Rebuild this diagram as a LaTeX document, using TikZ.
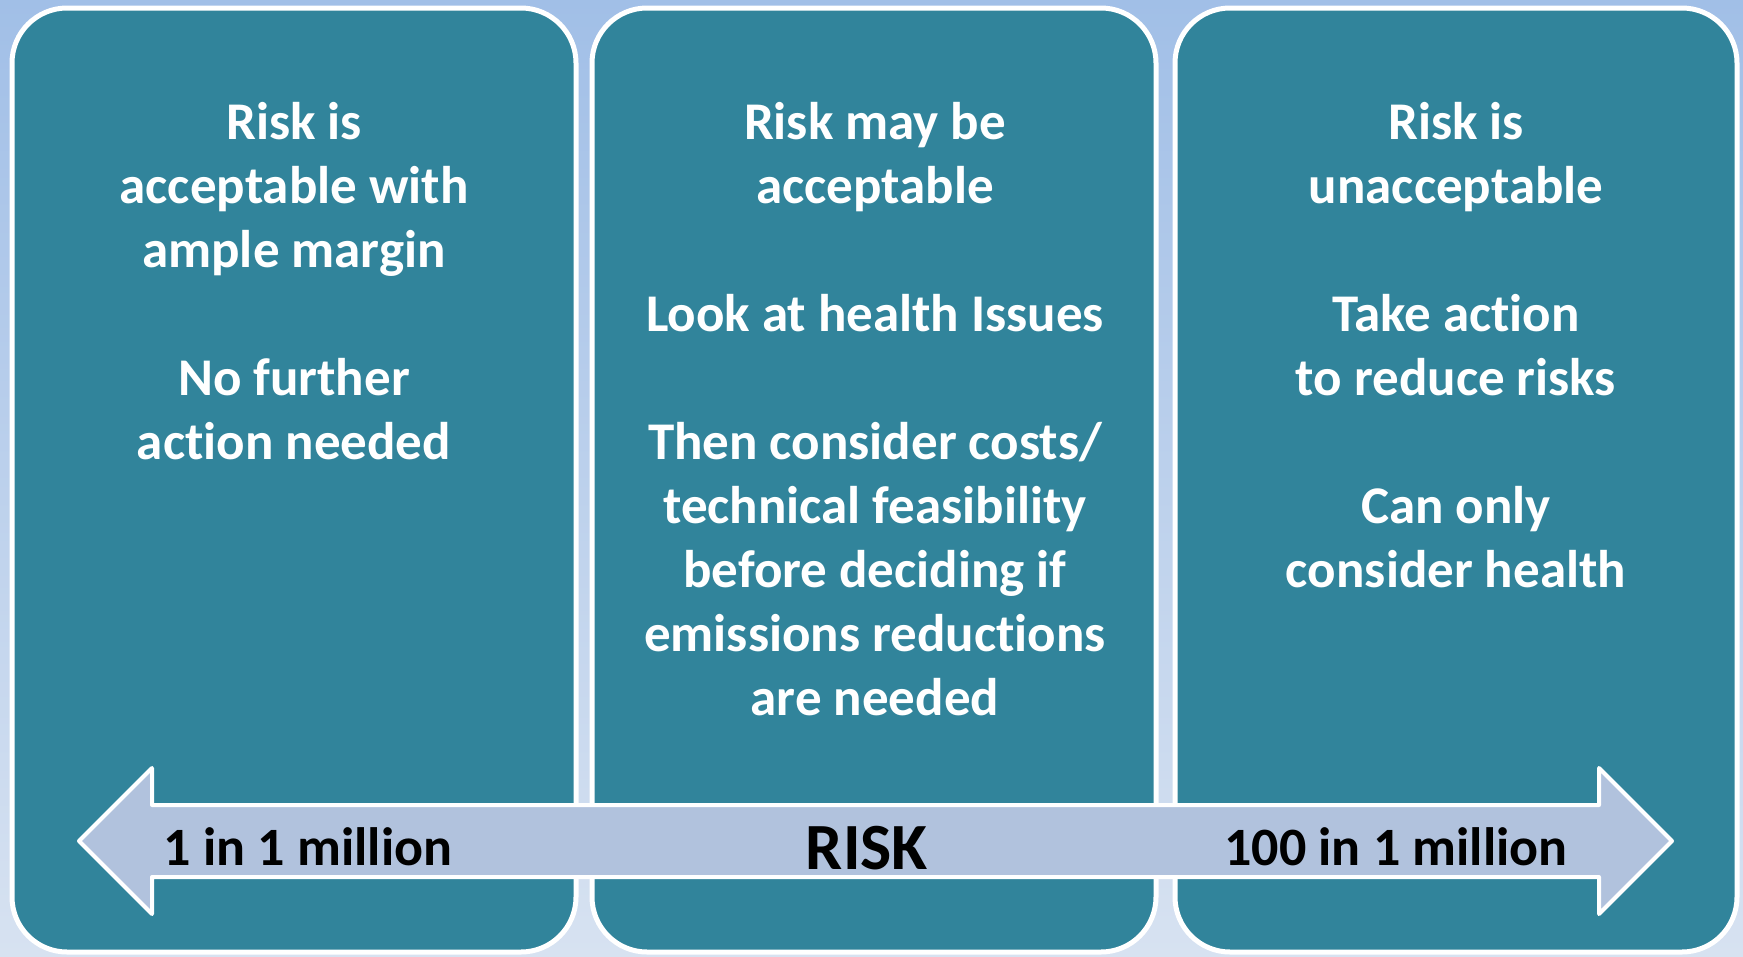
\documentclass[tikz,border=0pt]{standalone}
\usepackage{fontspec}
\setmainfont{Carlito}[RawFeature={-liga;-dlig}]
\definecolor{panelteal}{HTML}{31849B}
\definecolor{arrowblue}{HTML}{B1C2DD}
\definecolor{skytop}{HTML}{A1BFE7}
\definecolor{skybot}{HTML}{D7E2F1}

\tikzset{
  panel/.style={draw=white,line width=5pt,fill=panelteal,rounded corners=55pt},
  paneltext/.style={text=white,align=center,anchor=north,
    font=\fontsize{53}{64}\selectfont\bfseries},
  scaletext/.style={text=black,font=\fontsize{54}{60}\selectfont\bfseries},
}

\begin{document}
\begin{tikzpicture}[x=1pt,y=-1pt]
  \useasboundingbox[top color=skytop,bottom color=skybot]
    (0,0) rectangle (1743,956);
  % three columns
  \draw[panel] (12,8) rectangle (576,952);
  \draw[panel] (592,8) rectangle (1156,952);
  \draw[panel] (1175,8) rectangle (1737,952);
  \node[paneltext] (low) at (294,99)
    {Risk is\\acceptable with\\ample margin\\[64pt]No further\\action needed};
  \node[paneltext] (mid) at (875,99)
    {Risk may be\\acceptable\\[64pt]Look at health Issues\\[64pt]Then consider costs/\\technical feasibility\\before deciding if\\emissions reductions\\are needed};
  \node[paneltext] (high) at (1456,99)
    {Risk is\\unacceptable\\[64pt]Take action\\to reduce risks\\[64pt]Can only\\consider health};
  % risk scale
  \draw[draw=white,line width=4pt,fill=arrowblue,line join=round]
    (79,841) -- (152,768) -- (152,805) -- (1599,805) -- (1599,768)
    -- (1672,841) -- (1599,914) -- (1599,877) -- (152,877) -- (152,914)
    -- cycle;
  \node[scaletext] (lowend) at (308,847) {1 in 1 million};
  \node[scaletext,font=\fontsize{66}{70}\selectfont\bfseries] (risk) at (867,848) {RISK};
  \node[scaletext] (highend) at (1396,847) {100 in 1 million};
\end{tikzpicture}
\end{document}
